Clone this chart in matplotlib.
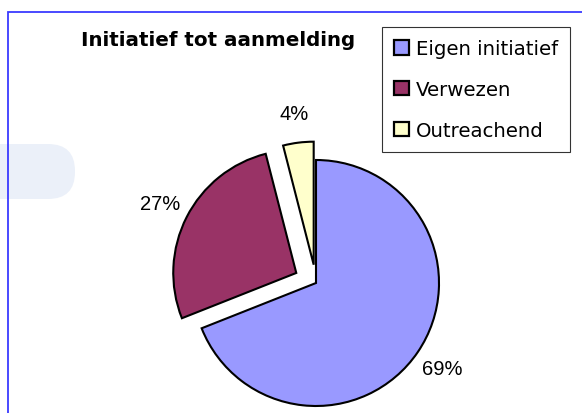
import matplotlib.pyplot as plt
from matplotlib.patches import FancyBboxPatch, Rectangle

categories = ["Eigen initiatief", "Verwezen", "Outreachend"]
shares = [69, 27, 4]
pct_labels = ["69%", "27%", "4%"]
colors = ["#9999ff", "#993366", "#ffffcc"]
explode = [0, 0.18, 0.15]

W, H = 582, 414
fig = plt.figure(figsize=(W / 100, H / 100), dpi=100)
fig.patch.set_facecolor("white")

# faint watermark in the background
bg = fig.add_axes([0, 0, 1, 1])
bg.set_xlim(0, W)
bg.set_ylim(H, 0)
bg.axis("off")
bg.add_patch(FancyBboxPatch((-30, 145), 105, 55, boxstyle="round,pad=0,rounding_size=27",
                            fc="#ebf0f9", ec="none"))
# blue frame
bg.plot([8, 8, W], [H, 13, 13], color="#3a3aff", lw=1.3, solid_joinstyle="miter")

# pie axes: centre at (316, 284) px, radius 123 px
cx, cy, r, half = 316, 284, 123, 160
ax = fig.add_axes([(cx - half) / W, (H - cy - half) / H, 2 * half / W, 2 * half / H])
wedges, texts = ax.pie(shares, colors=colors, explode=explode, startangle=90,
                       counterclock=False, labels=pct_labels, labeldistance=1.24,
                       wedgeprops=dict(edgecolor="black", linewidth=1.5),
                       textprops=dict(fontsize=14.5, family="Liberation Sans"))
for t in texts:
    t.set_ha("center")
ax.set_xlim(-half / r, half / r)
ax.set_ylim(-half / r, half / r)
ax.set_aspect("equal")
ax.axis("off")

fig.text(81 / W, 1 - 41 / H, "Initiatief tot aanmelding", fontsize=14.3,
         fontweight="bold", ha="left", va="center")

handles = [Rectangle((0, 0), 1, 1, fc=c, ec="black", lw=1.6) for c in colors]
leg = fig.legend(handles, categories, loc="upper left",
                 bbox_to_anchor=(382 / W, 1 - 28 / H), frameon=True, fancybox=False,
                 fontsize=14.2, handlelength=0.75, handleheight=0.75, handletextpad=0.35,
                 labelspacing=1.1, borderpad=0.62, borderaxespad=0)
leg.get_frame().set_edgecolor("black")
leg.get_frame().set_linewidth(0.8)

fig.savefig("out.png", dpi=100)
